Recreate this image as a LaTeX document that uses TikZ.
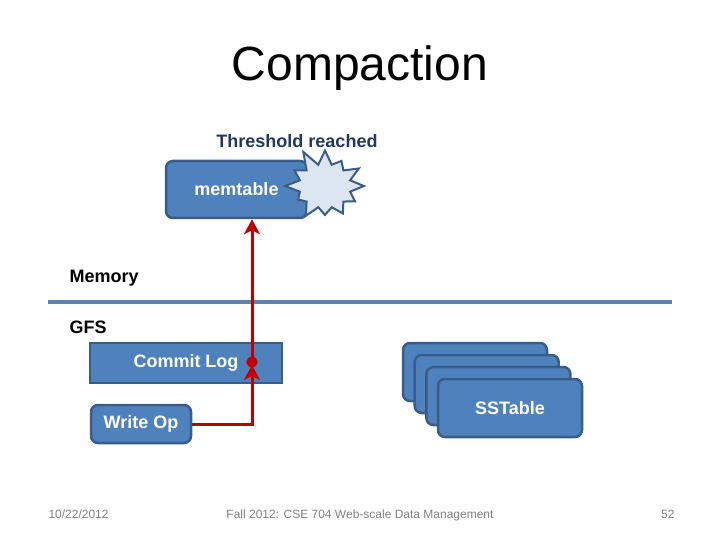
\documentclass[tikz,border=0pt]{standalone}
\usepackage{fontspec}
\setmainfont{Liberation Sans}
\usetikzlibrary{arrows, arrows.meta, shapes.symbols}

\definecolor{boxfill}{HTML}{4F81BD}
\definecolor{boxline}{HTML}{385D8A}
\definecolor{burstfill}{HTML}{DCE6F2}
\definecolor{sepline}{HTML}{5B84B1}
\definecolor{arrowred}{HTML}{C00000}
\definecolor{darkblue}{HTML}{1F3864}

\begin{document}
\begin{tikzpicture}[x=1pt,y=-1pt,>={Stealth[length=15pt,width=16pt,inset=4pt]},
 box/.style={draw=boxline,fill=boxfill,line width=2.5pt,text=white,
   inner sep=0pt,font=\bfseries\fontsize{18}{20}\selectfont},
 round box/.style={box,rounded corners=7pt},
 label text/.style={font=\bfseries\fontsize{18}{20}\selectfont},
 footer/.style={text=gray,anchor=base,font=\fontsize{12}{14}\selectfont},
 red line/.style={draw,color=arrowred,line width=3pt}]
\useasboundingbox (0,0) rectangle (720,540);

\node[font=\fontsize{48}{54}\selectfont](title) at (360,68) {Compaction};
\node[label text,text=darkblue](threshold) at (297,141) {Threshold reached};

\node[round box,minimum width=141pt,minimum height=57pt](memtable) at (236.5,189.5) {memtable};
\node[starburst,starburst points=12,starburst point height=18pt,random starburst=11,
  draw=boxline,fill=burstfill,line width=2pt,minimum width=88pt,minimum height=80pt](burst) at (325,186) {};

\node[label text,anchor=west](memory) at (66,278) {Memory};
\node[label text,anchor=west](gfs) at (66,327) {GFS};
\draw[sepline,line width=4pt] (48,302) -- (672,302);

\node[box,minimum width=192pt,minimum height=40pt](commitlog) at (186,363) {Commit Log};
\node[round box,minimum width=100pt,minimum height=38pt](writeop) at (141,424) {Write Op};

 \foreach \i in {0,1,2}{
     \node[round box,minimum width=144pt,minimum height=58pt](sst\i) at (475+11.7*\i,372+12*\i) {};}
 \node[round box,minimum width=144pt,minimum height=58pt](sst3) at (510,408) {SSTable};

\coordinate (logpoint) at (252,362);
\path[red line]
  (writeop.east) edge[->,shorten >=3pt,to path={-| (\tikztotarget)}] (logpoint)
  (logpoint) edge[{Circle[length=11pt,sep=-5.5pt]}->] (logpoint |- memtable.south);

\node[footer,anchor=base west](date) at (45,518) {10/22/2012};
\node[footer](course) at (360,518) {Fall 2012: CSE 704 Web-scale Data Management};
\node[footer,anchor=base east](page) at (678,518) {52};
\end{tikzpicture}
\end{document}
